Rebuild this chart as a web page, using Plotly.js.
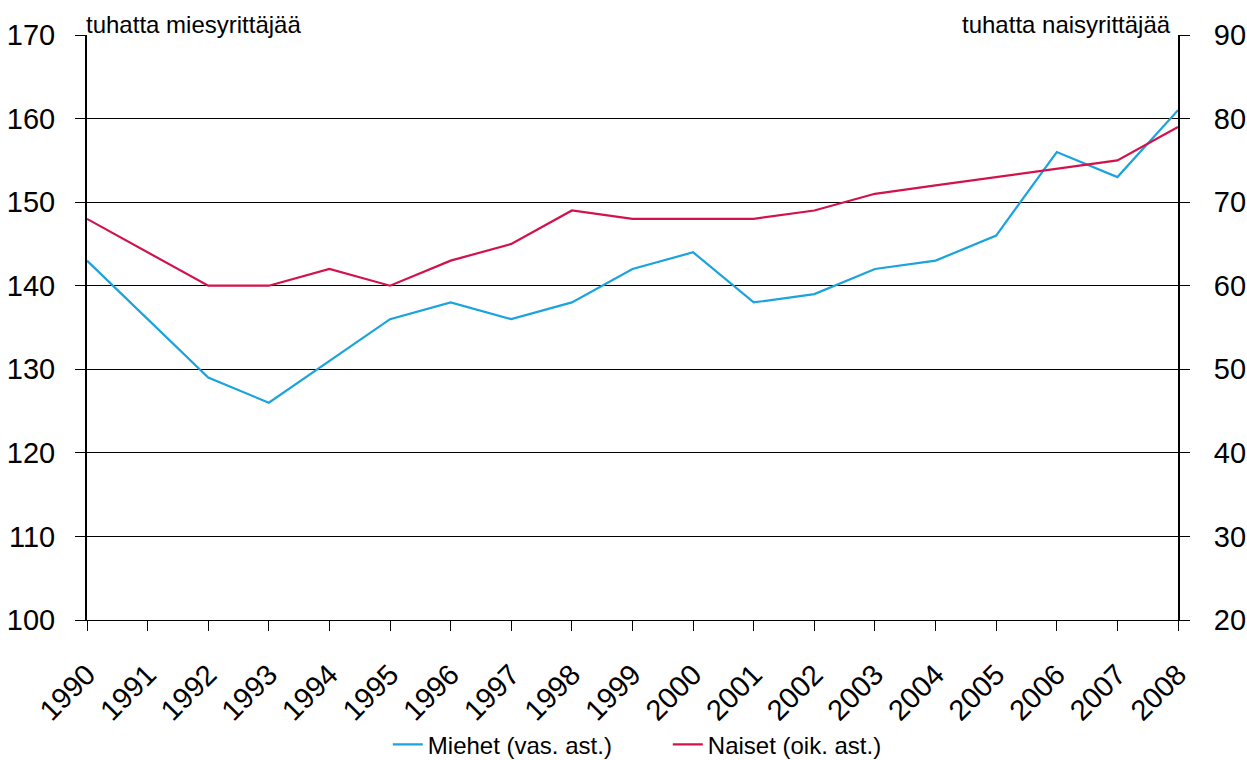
<!DOCTYPE html>
<html>
<head>
<meta charset="utf-8">
<script src="https://cdn.plot.ly/plotly-3.0.1.min.js"></script>
<style>html,body{margin:0;padding:0;background:#fff;}#chart{width:1247px;height:760px;}</style>
</head>
<body>
<div id="chart"></div>
<script>
const years = [1990,1991,1992,1993,1994,1995,1996,1997,1998,1999,2000,2001,2002,2003,2004,2005,2006,2007,2008];
const miehet = [143,136,129,126,131,136,138,136,138,142,144,138,139,142,143,146,156,153,161];
const naiset = [68,64,60,60,62,60,63,65,69,68,68,68,69,71,72,73,74,75,79];
const leftTicks = [100,110,120,130,140,150,160,170];
const rightTicks = [20,30,40,50,60,70,80,90];

const font = "Liberation Sans, Arial, sans-serif";
const traces = [
  {x: years, y: miehet, type: 'scatter', mode: 'lines', name: 'Miehet (vas. ast.)',
   line: {color: '#1BA3DD', width: 2.2}, yaxis: 'y'},
  {x: years, y: naiset, type: 'scatter', mode: 'lines', name: 'Naiset (oik. ast.)',
   line: {color: '#D2124A', width: 2.2}, yaxis: 'y2'}
];
const layout = {
  width: 1247, height: 760,
  margin: {l: 87, r: 69, t: 35, b: 140},
  paper_bgcolor: '#fff', plot_bgcolor: '#fff',
  font: {family: font, color: '#000'},
  showlegend: true,
  legend: {orientation: 'h', xref: 'container', x: 0.311, xanchor: 'left', yref: 'container', y: 0.02, yanchor: 'middle',
           font: {size: 24, family: font}, entrywidth: 235, entrywidthmode: 'pixels', tracegroupgap: 0},
  xaxis: {range: [1990, 2008], tickmode: 'array', tickvals: years, ticktext: years.map(String),
          tickangle: -45, ticks: 'outside', ticklen: 10, tickcolor: '#000', tickwidth: 1,
          ticklabelstandoff: 15, automargin: false,
          showline: true, linecolor: '#000', linewidth: 1, showgrid: false, zeroline: false,
          tickfont: {size: 29, family: font}, fixedrange: true},
  yaxis: {range: [100, 170], tickmode: 'array', tickvals: leftTicks, ticks: 'outside', ticklen: 10,
          ticklabelstandoff: 14, automargin: false,
          tickcolor: '#000', showline: true, linecolor: '#000', linewidth: 2, showgrid: true,
          gridcolor: '#000', gridwidth: 1, zeroline: false, tickfont: {size: 29, family: font}},
  yaxis2: {range: [20, 90], tickmode: 'array', tickvals: rightTicks, overlaying: 'y', side: 'right',
           ticks: 'outside', ticklen: 10, tickcolor: '#000', showline: true, linecolor: '#000',
           ticklabelstandoff: 18, automargin: false,
           linewidth: 2, showgrid: false, zeroline: false, tickfont: {size: 29, family: font}},
  annotations: [
    {text: 'tuhatta miesyrittäjää', xref: 'paper', yref: 'paper', x: 0, y: 1, xanchor: 'left',
     yanchor: 'bottom', showarrow: false, font: {size: 24, family: font}, yshift: -5, xshift: -3},
    {text: 'tuhatta naisyrittäjää', xref: 'paper', yref: 'paper', x: 0.995, y: 1, xanchor: 'right',
     yanchor: 'bottom', showarrow: false, font: {size: 24, family: font}, yshift: -5}
  ]
};
Plotly.newPlot('chart', traces, layout, {displayModeBar: false, staticPlot: true});
</script>
</body>
</html>
